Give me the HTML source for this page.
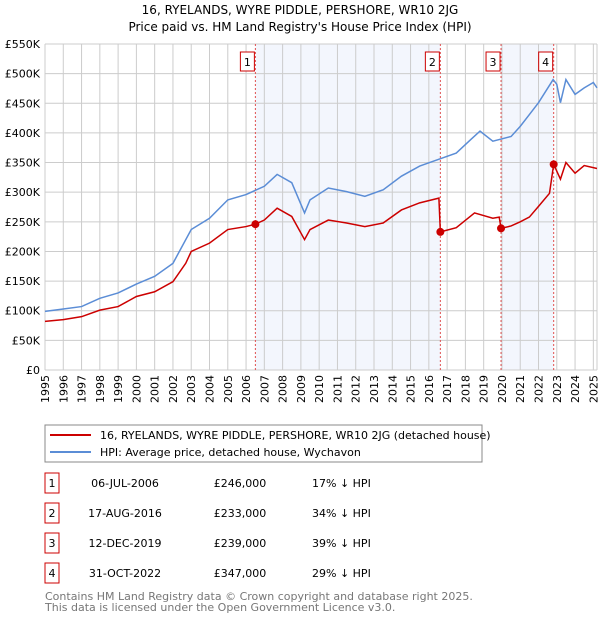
<!DOCTYPE html>
<html><head><meta charset="utf-8"><style>
body{margin:0;background:#fff;font-family:"DejaVu Sans","Liberation Sans",sans-serif;}
svg text{font-family:"DejaVu Sans","Liberation Sans",sans-serif;}
</style></head><body>
<svg id="c" width="600" height="620" xmlns="http://www.w3.org/2000/svg">
<text x="300" y="14" font-size="12" text-anchor="middle">16, RYELANDS, WYRE PIDDLE, PERSHORE, WR10 2JG</text>
<text x="300" y="31" font-size="12" text-anchor="middle">Price paid vs. HM Land Registry's House Price Index (HPI)</text>
<g id="plot"></g>
<rect x="45" y="425" width="437" height="37" fill="none" stroke="#888"/>
<line x1="50" y1="435" x2="91" y2="435" stroke="#cc0000" stroke-width="2"/>
<text x="100" y="439" font-size="11">16, RYELANDS, WYRE PIDDLE, PERSHORE, WR10 2JG (detached house)</text>
<line x1="50" y1="452" x2="91" y2="452" stroke="#5b8dd6" stroke-width="2"/>
<text x="100" y="456" font-size="11">HPI: Average price, detached house, Wychavon</text>
<g id="table"></g>
<text x="45" y="600" font-size="11" fill="#777">Contains HM Land Registry data © Crown copyright and database right 2025.</text>
<text x="45" y="611" font-size="11" fill="#777">This data is licensed under the Open Government Licence v3.0.</text>
</svg>
<script>
const hpiYears=[1995,1996,1997,1998,1999,2000,2001,2002,2003,2004,2005,2006,2007,2007.7,2008.5,2009.2,2009.5,2010.5,2011.5,2012.5,2013.5,2014.5,2015.5,2016.5,2017.5,2018.3,2018.8,2019.5,2020.5,2021,2021.5,2022,2022.8,2023,2023.2,2023.5,2024,2024.5,2025,2025.2];
const hpiValues=[99,103,107,121,130,145,158,180,237,256,287,296,310,330,316,265,287,307,301,293,304,327,344,355,366,389,403,386,394,411,431,451,490,482,451,490,465,476,485,476];
const priceYears=[1995,1996,1997,1998,1999,2000,2001,2002,2002.7,2003,2004,2005,2006,2006.51,2007,2007.7,2008.5,2009.2,2009.5,2010.5,2011.5,2012.5,2013.5,2014.5,2015.5,2016.55,2016.63,2017.5,2018.5,2019.5,2019.85,2019.95,2020.5,2021,2021.5,2022,2022.6,2022.83,2023.2,2023.5,2024,2024.5,2025.2];
const priceValues=[82,85,90,101,107,124,132,149,180,200,214,237,242,246,253,273,259,220,237,253,248,242,248,270,282,290,233,240,265,256,258,239,243,250,258,276,298,347,322,350,332,345,340];
const saleLabels=["1","2","3","4"];
const saleYears=[2006.51,2016.63,2019.95,2022.83];
const salePrices=[246,233,239,347];
const saleDates=["06-JUL-2006","17-AUG-2016","12-DEC-2019","31-OCT-2022"];
const saleText=["£246,000","£233,000","£239,000","£347,000"];
const saleDiff=["17% ↓ HPI","34% ↓ HPI","39% ↓ HPI","29% ↓ HPI"];
const yTicks=[0,50,100,150,200,250,300,350,400,450,500,550];
const xTicks=[1995,1996,1997,1998,1999,2000,2001,2002,2003,2004,2005,2006,2007,2008,2009,2010,2011,2012,2013,2014,2015,2016,2017,2018,2019,2020,2021,2022,2023,2024,2025];
const NS="http://www.w3.org/2000/svg";
const X0=45,X1=597,Y0=370,Y1=44;
const xs=y=>X0+(y-1995)*(X1-X0)/30.2;
const ys=v=>Y0-v*(Y0-Y1)/550;
const g=document.getElementById('plot');
function mk(t,a,p){const e=document.createElementNS(NS,t);for(const k in a)e.setAttribute(k,a[k]);(p||g).appendChild(e);return e;}
for(const [a,b] of [[0,1],[2,3]]){
 const r=mk('rect',{x:xs(saleYears[a]),y:Y1,width:xs(saleYears[b])-xs(saleYears[a]),height:Y0-Y1,fill:'#f3f6fd'});
 
 
}
xTicks.forEach(t=>{
 const l=mk('line',{x1:xs(t),x2:xs(t),y1:Y1,y2:Y0,stroke:'#ccc'});
 
 
 const tx=mk('text',{x:0,y:0,'font-size':11,'text-anchor':'end',transform:`translate(${xs(t)+4},${Y0+5}) rotate(-90)`});
 tx.textContent=t;
 
 
});
mk('line',{x1:X1,x2:X1,y1:Y1,y2:Y0,stroke:'#ccc'});
yTicks.forEach(t=>{
 const l=mk('line',{x1:X0,x2:X1,y1:ys(t),y2:ys(t),stroke:'#ccc'});
 
 
 const tx=mk('text',{x:40,y:ys(t)+4,'font-size':11,'text-anchor':'end'});
 tx.textContent=t===0?'£0':'£'+t+'K';
 
 
});
saleYears.forEach((s,i)=>{
 const l=mk('line',{x1:xs(s),x2:xs(s),y1:Y1,y2:Y0,stroke:'#e05050','stroke-dasharray':'2,2'});
 
 
 const r=mk('rect',{x:xs(s)-15,y:52,width:14,height:19,fill:'#fff',stroke:'#cc0000'});
 
 
 const t=mk('text',{x:xs(s)-8,y:66,'font-size':11,'text-anchor':'middle'});t.textContent=saleLabels[i];
});
const hp=mk('polyline',{points:hpiYears.map((y,i)=>xs(y)+','+ys(hpiValues[i])).join(' '),fill:'none',stroke:'#5b8dd6','stroke-width':1.5});


const pp=mk('polyline',{points:priceYears.map((y,i)=>xs(y)+','+ys(priceValues[i])).join(' '),fill:'none',stroke:'#cc0000','stroke-width':1.5});


saleYears.forEach((s,i)=>{
 const c=mk('circle',{cx:xs(s),cy:ys(salePrices[i]),r:4,fill:'#cc0000'});
 
 
});
const tb=document.getElementById('table');
saleLabels.forEach((l,i)=>{
 const cy=483+i*30;
 const r=mk('rect',{x:45,y:cy-10,width:14,height:20,fill:'#fff',stroke:'#cc0000'},tb);
 
 
 const vals=[[52,l,'middle'],[125,saleDates[i],'middle'],[240,saleText[i],'middle'],[312,saleDiff[i],'start']];
 vals.forEach(v=>{const t=mk('text',{x:v[0],y:cy+4,'font-size':11,'text-anchor':v[2]},tb);t.textContent=v[1];
  
  });
});
</script>
</body></html>
